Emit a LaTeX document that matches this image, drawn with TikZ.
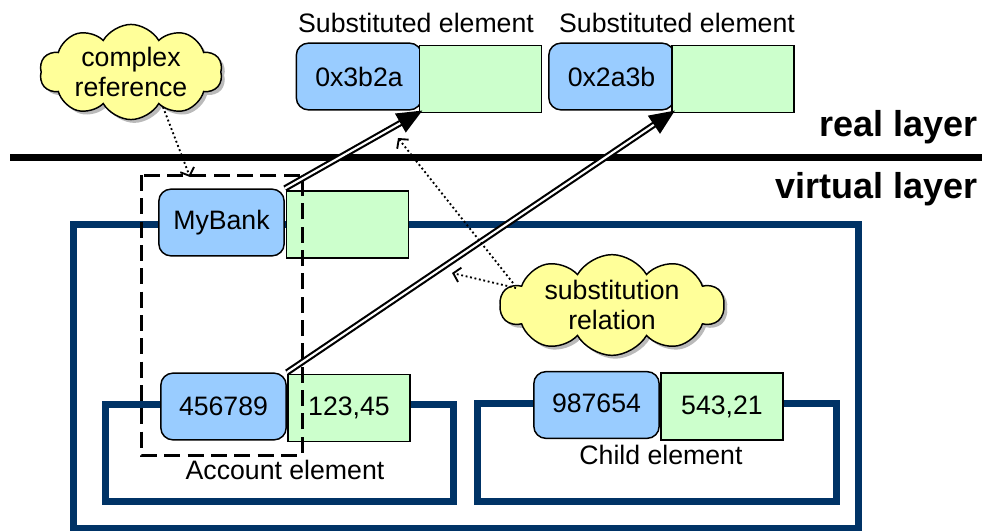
\documentclass[tikz,border=0pt]{standalone}
\usepackage{fontspec}
\setmainfont{Liberation Sans}
\usetikzlibrary{shapes.symbols,shadows,arrows.meta}
\definecolor{frameblue}{RGB}{0,51,102}
\definecolor{boxblue}{RGB}{153,204,255}
\definecolor{boxgreen}{RGB}{204,255,204}
\definecolor{cloudyellow}{RGB}{255,255,153}
\tikzset{
  txt/.style={font=\fontsize{20}{22.5}\selectfont, inner sep=0pt},
  bluebox/.style={txt, draw=black, line width=1.1pt, fill=boxblue, rounded corners=9pt, minimum width=94pt, minimum height=50pt},
  greenbox/.style={txt, draw=black, line width=1.1pt, fill=boxgreen, minimum width=91.5pt, minimum height=50.5pt},
  frame/.style={draw=frameblue, line width=5.25pt},
  layerlbl/.style={font=\fontsize{27}{30}\selectfont\bfseries, inner sep=0pt, anchor=east},
  cloudnode/.style={txt, cloud, cloud puffs=10, cloud puff arc=120, cloud ignores aspect, draw=black, line width=1.1pt, fill=cloudyellow, align=center,
    drop shadow={shadow xshift=2.5pt, shadow yshift=-2.5pt, fill=black!45, opacity=0.6}},
  substarrow/.style={double=white, draw=black, line width=1.6pt, double distance=1.6pt, -{Triangle[length=19pt,width=16pt]}},
  noteline/.style={dotted, line width=1.4pt, -{Straight Barb[length=5pt,width=11pt]}},
  dashbox/.style={draw=black, line width=2.25pt, dash pattern=on 12pt off 5.5pt}
}
\begin{document}
\begin{tikzpicture}[x=0.75pt, y=-0.75pt]
\useasboundingbox (0,0) rectangle (984,531);
% frames
\draw[frame] (73,224) rectangle (858,528);
\draw[frame] (105,404) rectangle (453,501);
\draw[frame] (477,403) rectangle (836,501);
% layer line
\coordinate (ll) at (10,157.5);
\coordinate (lr) at (982,157.5);
\draw[line width=5.25pt] (ll) -- (lr);
\node[layerlbl] (real) at (978,127) {real layer};
\node[layerlbl] (virt) at (978,189) {virtual layer};
% substituted elements
\node[txt] (sublbl1) at (416,23) {Substituted element};
\node[txt] (sublbl2) at (677,23) {Substituted element};
\node[bluebox] (s1b) at (359,76.5) {0x3b2a};
\node[greenbox] (s1g) at (480.5,79) {};
\node[bluebox] (s2b) at (611.5,76.5) {0x2a3b};
\node[greenbox] (s2g) at (733,79) {};
% virtual elements
\node[bluebox] (mbb) at (221.5,222.5) {MyBank};
\node[greenbox] (mbg) at (347.5,224.5) {};
\node[bluebox] (acb) at (223.5,406.5) {456789};
\node[greenbox] (acg) at (349,408) {123,45};
\node[bluebox] (chb) at (596.5,405) {\raisebox{3pt}{987654}};
\node[greenbox] (chg) at (722,406.5) {543,21};
\node[txt] (acl) at (285,470) {Account element};
\node[txt] (chl) at (661,455) {Child element};
% dashed complex reference box
\draw[dashbox] (141,175) rectangle (302,455);
% substitution arrows
\draw[substarrow] (mbb.north east) -- (s1b.south east);
\draw[substarrow] (acb.north east) -- (s2b.south east);
% clouds
\node[cloudnode, minimum width=137pt, minimum height=71pt] (cr) at (131,72) {complex\\reference};
\node[cloudnode, minimum width=168pt, minimum height=75pt] (sr) at (612,305) {substitution\\relation};
% dotted notes
\coordinate (crtip) at (190,177);
\coordinate (srtip1) at (398,138);
\coordinate (srtip2) at (452,273);
\coordinate (srfrom1) at (513,283);
\coordinate (srfrom2) at (516,288);
\draw[noteline] (163,107) -- (crtip);
\draw[noteline] (srfrom1) -- (srtip1);
\draw[noteline] (srfrom2) -- (srtip2);
\end{tikzpicture}
\end{document}
